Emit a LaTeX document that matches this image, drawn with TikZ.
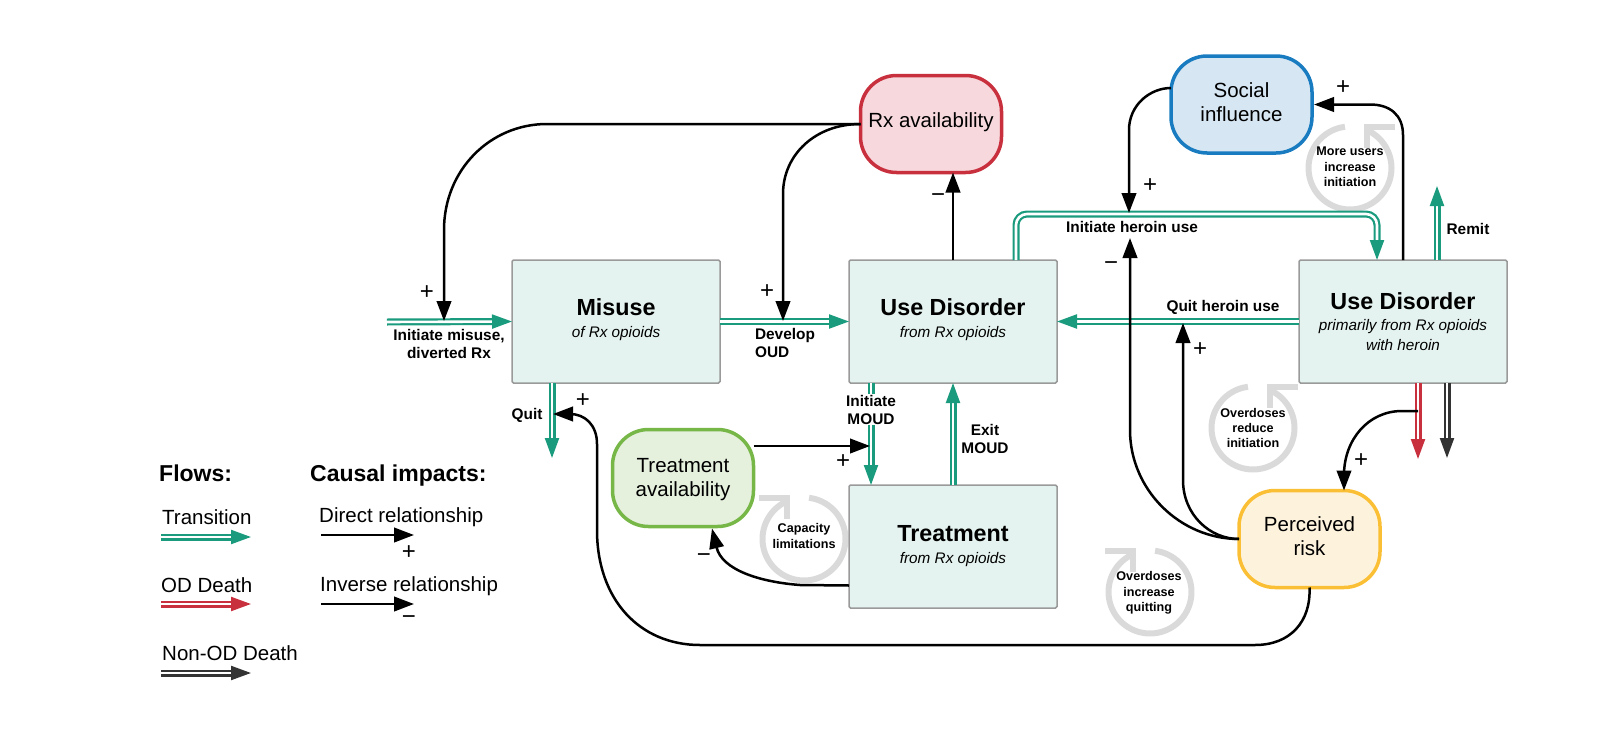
\documentclass[tikz,border=0pt]{standalone}
\usepackage{fontspec}
\setmainfont{Liberation Sans}
\usetikzlibrary{arrows.meta,calc}
\definecolor{flowteal}{HTML}{1A9B7E}
\definecolor{flowred}{HTML}{C9303E}
\definecolor{flowdark}{HTML}{333333}
\definecolor{boxfill}{HTML}{E4F3EF}
\definecolor{boxline}{HTML}{9A9A9A}
\definecolor{loopgrey}{HTML}{DADADA}
\newcommand{\boxtitle}[1]{{\fontsize{23.3}{24}\selectfont\bfseries\upshape #1}}
\newcommand{\lowstrut}[1]{\rule[-#1pt]{0pt}{1pt}}
\tikzset{
  stockbox/.style={draw=boxline,fill=boxfill,line width=1.5pt,rounded corners=1.5pt,minimum width=208pt,minimum height=123pt,inner sep=0pt,outer sep=0pt,align=center,font=\fontsize{15.3}{20}\selectfont\itshape},
  factor/.style={line width=3.5pt,rounded corners=36pt,minimum width=141pt,minimum height=97pt,inner sep=0pt,outer sep=0pt,align=center,font=\fontsize{20.5}{24}\selectfont},
  flow/.style={draw=#1,line width=2.2pt,double=white,double distance=2.6pt,-{Triangle[length=20pt,width=14pt,fill=#1,color=#1]}},
  causal/.style={draw=black,line width=2.5pt,-{Triangle[length=20pt,width=14.5pt,fill=black]}},
  lab/.style={inner sep=0pt,align=center,font=\fontsize{15.4}{18}\selectfont\bfseries},
  looplab/.style={inner sep=0pt,align=center,font=\fontsize{12.6}{15.3}\selectfont\bfseries},
  sign/.style={inner sep=0pt,font=\fontsize{24}{24}\selectfont},
  legendhead/.style={inner sep=0pt,anchor=base west,font=\fontsize{23}{24}\selectfont\bfseries},
  legendtxt/.style={inner sep=0pt,anchor=base west,font=\fontsize{20.5}{24}\selectfont},
  loopmark/.pic={
    \draw[loopgrey,line width=6pt] plot[domain=97:427,samples=70,smooth] ({41.5*cos(\x)},{-41.5*sin(\x)});
    \draw[loopgrey,line width=6pt,line join=miter] (45,-41) -- (17,-41) -- (17,-20);
  }
}
\begin{document}
\begin{tikzpicture}[x=1pt,y=-1pt]
\useasboundingbox (0,0) rectangle (1604,744);

% feedback-loop marks
\pic at (1350,168) {loopmark};
\pic at (1253,428) {loopmark};
\pic[xscale=-1] at (1150,592) {loopmark};
\pic[xscale=-1] at (804,539) {loopmark};
\node[looplab] (l1) at (1350,167) {More users\\increase\\initiation};
\node[looplab] (l2) at (1253,428) {Overdoses\\reduce\\initiation};
\node[looplab] (l3) at (1149,593) {Overdoses\\increase\\quitting};
\node[looplab] (l4) at (804,536) {Capacity\\limitations};

% stocks
\node[stockbox] (misuse) at (616,321.5) {\boxtitle{Misuse}\\[2pt]of Rx opioids\lowstrut{6}};
\node[stockbox] (ud1) at (953,321.5) {\boxtitle{Use Disorder}\\[2pt]from Rx opioids\lowstrut{6}};
\node[stockbox] (ud2) at (1403,321.5) {\boxtitle{Use Disorder}\\[1pt]primarily from Rx opioids\\with heroin};
\node[stockbox] (treat) at (953,546.5) {\boxtitle{Treatment}\\[2pt]from Rx opioids};

% factors
\node[factor,draw=flowred,fill={rgb,255:red,247;green,217;blue,221}] (rx) at (931,124) {Rx availability\lowstrut{8}};
\node[factor,draw={rgb,255:red,26;green,124;blue,192},fill={rgb,255:red,214;green,230;blue,243}] (soc) at (1241.5,104.5) {Social\\influence\lowstrut{5}};
\node[factor,draw={rgb,255:red,118;green,183;blue,72},fill={rgb,255:red,229;green,240;blue,221}] (tav) at (683,478) {\rule{0pt}{17pt}Treatment\\availability};
\node[factor,draw={rgb,255:red,251;green,191;blue,53},fill={rgb,255:red,253;green,243;blue,221}] (perc) at (1309.5,539) {Perceived\\risk\lowstrut{5}};

% flow end points
\coordinate (inflow) at (387,322);
\coordinate (quitend) at (552,458);
\coordinate (remitend) at (1437,186);
\coordinate (odend) at (1418,459);
\coordinate (nodend) at (1447,458);

% flows
\draw[flow=flowteal] (inflow) -- (misuse.west);
\draw[flow=flowteal] (misuse.east) -- (ud1.west);
\draw[flow=flowteal] ([xshift=-64pt]misuse.south) -- (quitend);
\draw[flow=flowteal] ([xshift=-82pt]ud1.south) -- ([xshift=-82pt]treat.north);
\draw[flow=flowteal] (treat.north) -- (ud1.south);
\draw[flow=flowteal] (ud2.west) -- (ud1.east);
\draw[flow=flowteal,rounded corners=11pt] ([xshift=63pt]ud1.north) -- (1016,214) -- (1377,214) -- ([xshift=-26pt]ud2.north);
\draw[flow=flowteal] ([xshift=34pt]ud2.north) -- (remitend);
\draw[flow=flowred] ([xshift=15pt]ud2.south) -- (odend);
\draw[flow=flowdark] ([xshift=44pt]ud2.south) -- (nodend);

% flow labels
\node[lab,fill=white,inner ysep=1pt] (limoud) at (871,409.5) {Initiate\\MOUD};
\node[lab] (limis) at (449,343.5) {Initiate misuse,\\diverted Rx};
\node[lab,align=left] (ldev) at (785,343) {Develop\\OUD};
\node[lab] (lquit) at (527,415) {Quit};
\node[lab] (lexit) at (985,439) {Exit\\MOUD};
\node[lab] (lih) at (1132,227) {Initiate heroin use};
\node[lab] (lqh) at (1223,307.5) {Quit heroin use};
\node[lab] (lrem) at (1468,229) {Remit};

% causal links
\coordinate (mistip) at (444,321);
\coordinate (devtip) at (783,321);
\coordinate (iqtip) at (553,414);
\coordinate (inhtip) at (1129,213);
\coordinate (rihtip) at (1130,238);
\coordinate (qhtip) at (1183,323);
\coordinate (moudtip) at (870,446);
\coordinate (odsrc) at (1418,411);

\draw[causal] (rx.west) -- (547,124) .. controls (490,124) and (444,170) .. (444,230) -- (mistip);
\draw[causal] (rx.west) .. controls (815,124) and (783,155) .. (783,194) -- (devtip);
\draw[causal] (ud1.north) -- (rx.south -| ud1.north);
\draw[causal] ([yshift=16.5pt]soc.west) .. controls (1150,88) and (1129,105) .. (1129,130) -- (inhtip);
\draw[causal] ([xshift=0pt]ud2.north) -- (1403,135) .. controls (1403,115) and (1390,104.5) .. (1370,104.5) -- ([xshift=2pt]soc.east);
\draw[causal] (perc.west) .. controls (1180,539) and (1130,490) .. (1130,430) -- (rihtip);
\draw[causal] (perc.west) .. controls (1210,539) and (1183,515) .. (1183,480) -- (qhtip);
\draw[causal] (odsrc) -- (1402,411) .. controls (1368,411) and (1344,440) .. (1344,475) -- ([xshift=34.5pt]perc.north);
\draw[causal] (perc.south) .. controls (1311,622) and (1290,645) .. (1255,645) -- (700,645) .. controls (640,645) and (597,600) .. (597,530) -- (597,444) .. controls (597,425) and (585,414) .. (570,414) -- (iqtip);
\draw[causal] ([yshift=32pt]tav.east) -- (moudtip);
\draw[causal] ([yshift=-39pt]treat.west) -- (800,585) .. controls (760,582) and (722,570) .. ([xshift=29pt,yshift=-2pt]tav.south);

% signs
\node[sign] (p1) at (427,293) {+};
\node[sign] (p2) at (767,292) {+};
\node[sign] (p3) at (583,401) {+};
\node[sign] (p4) at (843,462) {+};
\node[sign] (p5) at (1343,88) {+};
\node[sign] (p6) at (1150,186) {+};
\node[sign] (p7) at (1361,461) {+};
\node[sign] (p8) at (1200,350) {+};
\node[sign] (m1) at (938,198) {−};
\node[sign] (m2) at (1111,266) {−};
\node[sign] (m3) at (704,558) {−};

% legend
\node[legendhead] (hflow) at (159,481) {Flows:};
\node[legendhead] (hcausal) at (310,481) {Causal impacts:};
\node[legendtxt] (ltr) at (162,524) {Transition};
\node[legendtxt] (lod) at (161,592) {OD Death};
\node[legendtxt] (lnod) at (162,660) {Non-OD Death};
\node[legendtxt] (ldir) at (319,522) {Direct relationship};
\node[legendtxt] (linv) at (320,591) {Inverse relationship};
\coordinate (a1) at (161,537); \coordinate (b1) at (251,537);
\coordinate (a2) at (161,604); \coordinate (b2) at (251,604);
\coordinate (a3) at (161,673); \coordinate (b3) at (251,673);
\coordinate (a4) at (321,535); \coordinate (b4) at (414,535);
\coordinate (a5) at (321,604); \coordinate (b5) at (414,604);
\draw[flow=flowteal] (a1) -- (b1);
\draw[flow=flowred] (a2) -- (b2);
\draw[flow=flowdark] (a3) -- (b3);
\draw[causal] (a4) -- (b4);
\draw[causal] (a5) -- (b5);
\node[sign] (p9) at (409,553) {+};
\node[sign] (m4) at (409,620) {−};
\end{tikzpicture}
\end{document}
